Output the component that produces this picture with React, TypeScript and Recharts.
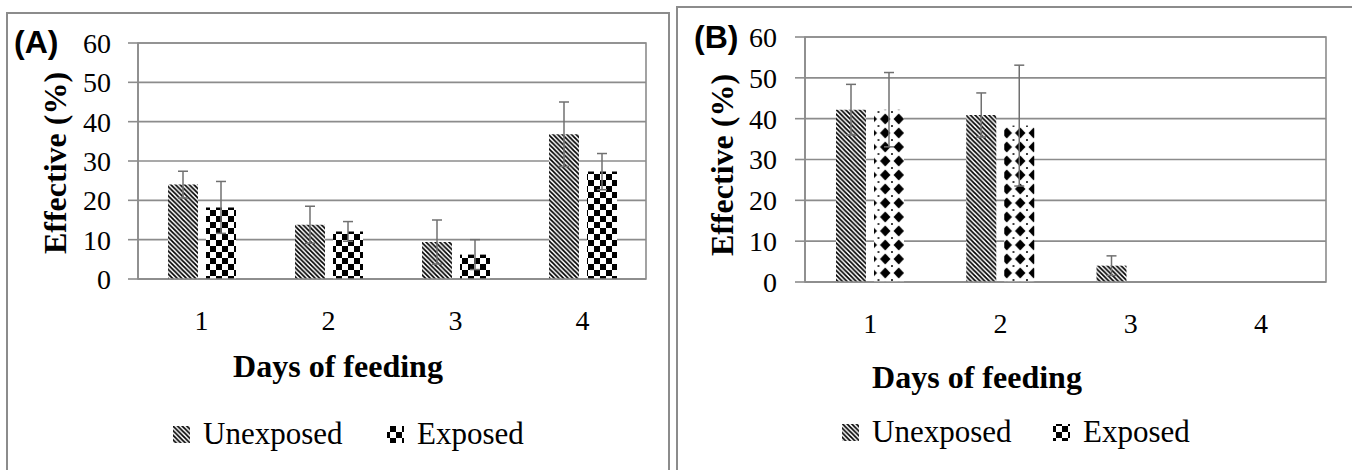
import { BarChart, Bar, XAxis, YAxis, CartesianGrid, ErrorBar, ReferenceArea, Label } from 'recharts'

const days = ['1', '2', '3', '4']
const yTicks = [0, 10, 20, 30, 40, 50, 60]

// Panel A (means and error bars)
const unexposedA = [24, 13.8, 9.4, 36.8]
const unexposedErrA = [3.4, 4.7, 5.6, 8.2]
const exposedA = [18.2, 12.1, 6.2, 27.3]
const exposedErrA = [6.6, 2.5, 3.8, 4.6]

// Panel B (null = no bar drawn)
const unexposedB = [42.2, 40.9, 4.0, null]
const unexposedErrB = [6.2, 5.4, 2.4, null]
const exposedB = [42.2, 38.3, null, null]
const exposedErrB = [9.1, 14.8, null, null]

const GRAY = '#8c8c8c'
const ERR = '#707070'
const SERIF = '"Liberation Serif", "Times New Roman", serif'
const SANS = '"Liberation Sans", Arial, sans-serif'

type Row = {
  day: string
  unexposed: number | null
  unexposedErr: number | null
  exposed: number | null
  exposedErr: number | null
}

const buildRows = (u: (number | null)[], ue: (number | null)[], e: (number | null)[], ee: (number | null)[]): Row[] =>
  days.map((day, i) => ({ day, unexposed: u[i], unexposedErr: ue[i], exposed: e[i], exposedErr: ee[i] }))

const dataA = buildRows(unexposedA, unexposedErrA, exposedA, exposedErrA)
const dataB = buildRows(unexposedB, unexposedErrB, exposedB, exposedErrB)

interface PanelProps {
  data: Row[]
  left: number
  margin: { top: number; right: number; bottom: number; left: number }
  exposedFill: string
  titleX: number
  titleY: number
  yTitleX: number
  yTitleY: number
  yTickMargin: number
}

const Panel = ({ data, left, margin, exposedFill, titleX, titleY, yTitleX, yTitleY, yTickMargin }: PanelProps) => (
  <div style={{ position: 'absolute', left, top: 0 }}>
    <BarChart width={676} height={470} data={data} margin={margin} barSize={30} barGap={8}>
      <CartesianGrid vertical={false} stroke={GRAY} strokeWidth={1.6} />
      <ReferenceArea y1={0} y2={60} fill="none" stroke={GRAY} strokeWidth={1.6} />
      <XAxis
        dataKey="day"
        height={60}
        tickLine={false}
        tickSize={0}
        tickMargin={31}
        axisLine={{ stroke: GRAY, strokeWidth: 1.6 }}
        tick={{ fill: '#000', fontSize: 28, fontFamily: SERIF }}
        label={
          <Label
            content={() => (
              <text x={titleX} y={titleY} textAnchor="middle" fontFamily={SERIF} fontWeight="bold" fontSize={32} fill="#000">
                Days of feeding
              </text>
            )}
          />
        }
      />
      <YAxis
        width={60}
        domain={[0, 60]}
        ticks={yTicks}
        interval={0}
        tickSize={10}
        tickMargin={yTickMargin}
        tickLine={{ stroke: GRAY, strokeWidth: 1.6 }}
        axisLine={{ stroke: GRAY, strokeWidth: 1.6 }}
        tick={{ fill: '#000', fontSize: 28, fontFamily: SERIF }}
        label={
          <Label
            content={() => (
              <text
                x={yTitleX}
                y={yTitleY}
                transform={`rotate(-90 ${yTitleX} ${yTitleY})`}
                textAnchor="middle"
                dominantBaseline="central"
                fontFamily={SERIF}
                fontWeight="bold"
                fontSize={32}
                fill="#000"
              >
                Effective (%)
              </text>
            )}
          />
        }
      />
      <Bar dataKey="unexposed" fill="url(#diag)" isAnimationActive={false}>
        <ErrorBar dataKey="unexposedErr" width={5} stroke={ERR} strokeWidth={1.5} isAnimationActive={false} />
      </Bar>
      <Bar dataKey="exposed" fill={exposedFill} isAnimationActive={false}>
        <ErrorBar dataKey="exposedErr" width={5} stroke={ERR} strokeWidth={1.5} isAnimationActive={false} />
      </Bar>
    </BarChart>
  </div>
)

const LegendItem = ({ x, y, fill, label }: { x: number; y: number; fill: string; label: string }) => (
  <g>
    <rect x={x} y={y - 18} width={17} height={17} fill={fill} />
    <text x={x + 30} y={y} fontFamily={SERIF} fontSize={31} fill="#000">
      {label}
    </text>
  </g>
)

export default function App() {
  return (
    <div style={{ position: 'fixed', left: 0, top: 0, width: 1352, height: 470, background: '#fff', overflow: 'hidden' }}>
      <svg width={0} height={0} style={{ position: 'absolute' }}>
        <defs>
          <pattern id="diag" patternUnits="userSpaceOnUse" width={4.6} height={4.6}>
            <rect width={4.6} height={4.6} fill="#fff" />
            <path d="M-1,-1 L5.6,5.6 M-1,3.6 L1,5.6 M3.6,-1 L5.6,1" stroke="#000" strokeWidth={1.7} />
          </pattern>
          <pattern id="checker" patternUnits="userSpaceOnUse" width={12} height={12}>
            <rect width={12} height={12} fill="#fff" />
            <rect width={6} height={6} fill="#000" />
            <rect x={6} y={6} width={6} height={6} fill="#000" />
          </pattern>
          <pattern id="diamond" patternUnits="userSpaceOnUse" width={13.5} height={14}>
            <rect width={13.5} height={14} fill="#fff" />
            <path d="M6.75,1.5 L12,7 L6.75,12.5 L1.5,7 Z" fill="#000" />
            <circle cx={0} cy={0} r={1} fill="#000" />
            <circle cx={13.5} cy={0} r={1} fill="#000" />
            <circle cx={0} cy={14} r={1} fill="#000" />
            <circle cx={13.5} cy={14} r={1} fill="#000" />
          </pattern>
        </defs>
      </svg>

      <Panel
        data={dataA}
        left={0}
        margin={{ top: 43, right: 30, bottom: 131, left: 78 }}
        exposedFill="url(#checker)"
        titleX={338}
        titleY={377}
        yTitleX={55}
        yTitleY={163}
        yTickMargin={17}
      />
      <Panel
        data={dataB}
        left={676}
        margin={{ top: 37, right: 26, bottom: 128, left: 69 }}
        exposedFill="url(#diamond)"
        titleX={301}
        titleY={388}
        yTitleX={46}
        yTitleY={165}
        yTickMargin={18}
      />

      <svg width={1352} height={470} style={{ position: 'absolute', left: 0, top: 0, pointerEvents: 'none' }}>
        <rect x={7} y={13} width={662} height={480} fill="none" stroke={GRAY} strokeWidth={2} />
        <rect x={677} y={7} width={700} height={480} fill="none" stroke={GRAY} strokeWidth={2} />
        <text x={14} y={53} fontFamily={SANS} fontWeight="bold" fontSize={32} fill="#000">
          (A)
        </text>
        <text x={694} y={48} fontFamily={SANS} fontWeight="bold" fontSize={32} fill="#000">
          (B)
        </text>
        <LegendItem x={173} y={444} fill="url(#diag)" label="Unexposed" />
        <LegendItem x={387} y={444} fill="url(#checker)" label="Exposed" />
        <LegendItem x={842} y={442} fill="url(#diag)" label="Unexposed" />
        <LegendItem x={1053} y={442} fill="url(#checker)" label="Exposed" />
      </svg>
    </div>
  )
}
